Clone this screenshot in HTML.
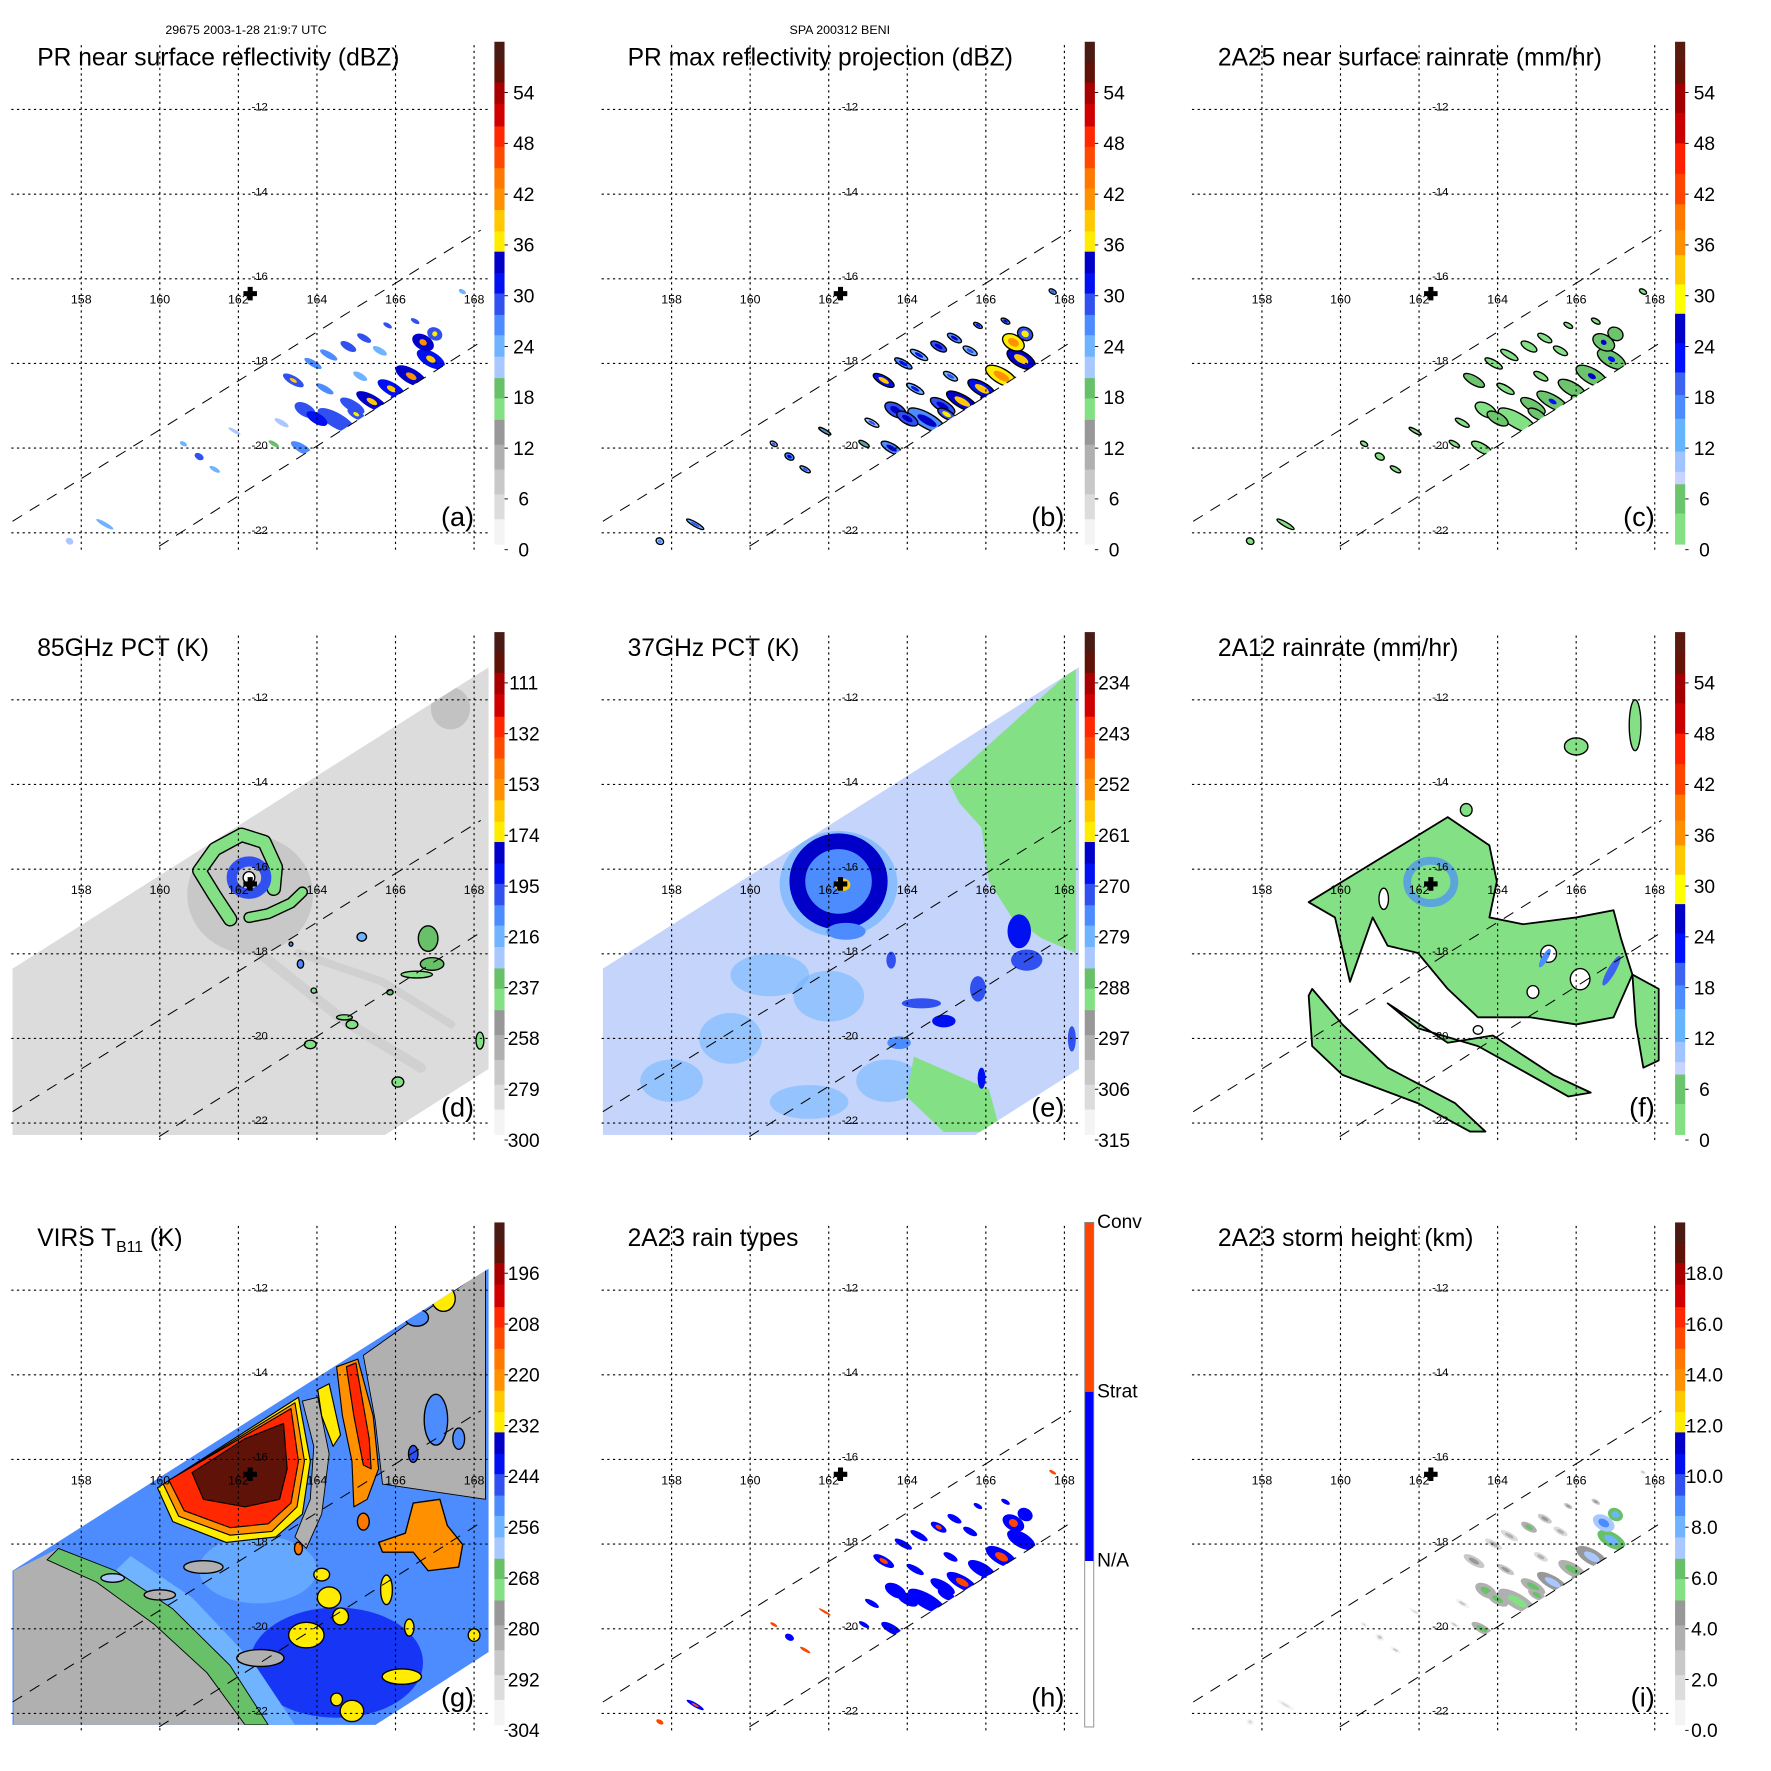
<!DOCTYPE html>
<html><head><meta charset="utf-8">
<style>
html,body{margin:0;padding:0;background:#fff;}
svg{display:block;}
text{font-family:"Liberation Sans",Arial,sans-serif;fill:#000;}
</style></head>
<body>
<svg id="chart" xmlns="http://www.w3.org/2000/svg" width="1771" height="1771" viewBox="0 0 1569 1569"></svg>
<script>
// ---------------- DATA ----------------
const prLon = [164.5,164.9,165.4,165.9,166.4,166.9,166.7,167.0,163.7,163.4,163.9,164.3,164.8,165.2,165.6,165.8,164.2,165.1,163.6,163.1,162.9,161.0,161.4,160.6,161.9,158.6,157.7,167.7,166.5,164.0,166.1,165.0];
const prLat = [-19.35,-19.0,-18.9,-18.6,-18.3,-17.9,-17.5,-17.3,-19.1,-18.4,-18.0,-17.8,-17.6,-17.4,-17.7,-17.1,-18.6,-18.3,-20.0,-19.4,-19.9,-20.2,-20.5,-19.9,-19.6,-21.8,-22.2,-16.3,-17.0,-19.3,-18.9,-19.2];
const prLen = [1.1,0.7,0.9,0.8,0.9,0.8,0.6,0.4,0.6,0.6,0.5,0.5,0.45,0.4,0.4,0.25,0.5,0.4,0.6,0.4,0.3,0.25,0.3,0.2,0.35,0.5,0.2,0.2,0.25,0.6,0.5,0.5];
const prWid = [0.35,0.25,0.3,0.3,0.35,0.35,0.35,0.3,0.3,0.2,0.15,0.15,0.18,0.15,0.15,0.1,0.15,0.15,0.2,0.12,0.1,0.15,0.1,0.1,0.08,0.1,0.15,0.1,0.1,0.25,0.2,0.2];
const prDbz = [28,30,33,31,33,32,34,30,29,30,27,26,29,28,25,28,26,25,27,22,20,28,25,24,22,24,22,24,30,31,32,30];
const prMax = [33,34,40,38,42,40,42,36,34,38,32,31,35,33,30,32,31,30,33,28,26,33,30,28,26,30,27,30,33,35,41,36];
const prRain = [4,5,8,6,9,7,9,5,4,5,3,2,4,3,2,3,2,2,3,1,1,2,1,1,1,1,1,2,3,5,7,5];
const prType = [0,0,1,0,1,0,1,0,0,1,0,0,1,0,0,0,0,0,0,0,0,0,1,1,1,1,1,1,0,0,1,0];
const prHgt = [5.5,6,7,6,7,8,9,8,6,5,4,4,6,5,4,5,5,4,6,3,3,3,3,2,2,2,2,3,5,6,7,6];

const dLon = [165.14,166.83,166.93,166.54,164.7,164.89,163.83,166.06,165.86,168.15,163.92,163.58,163.34];
const dLat = [-17.6,-17.64,-18.24,-18.49,-19.5,-19.67,-20.14,-21.03,-18.91,-20.05,-18.87,-18.24,-17.77];
const dRx = [0.12,0.25,0.3,0.4,0.2,0.15,0.15,0.15,0.08,0.1,0.07,0.08,0.05];
const dRy = [0.1,0.3,0.15,0.08,0.06,0.1,0.1,0.12,0.06,0.2,0.06,0.1,0.05];
const dVal = [215,230,235,238,240,238,240,242,235,240,240,205,210];
const dArmLon = [161.79,161.40,161.01,161.40,162.08,162.66,162.95,162.90];
const dArmLat = [-17.18,-16.63,-16.04,-15.53,-15.19,-15.36,-15.95,-16.46];
const dTailLon = [162.27,162.76,163.34,163.63];
const dTailLat = [-17.14,-17.05,-16.8,-16.54];
const dArc1Lon = [161.4,162.76,164.7,166.64];
const dArc1Lat = [-17.14,-18.15,-19.59,-20.69];
const dArc2Lon = [163.53,165.67,167.42];
const dArc2Lat = [-17.98,-18.66,-19.67];

const eGreenLon = [165.05,168.29,168.29,167.43,166.66,166.08,165.89,165.32];
const eGreenLat = [-13.92,-11.21,-17.98,-17.64,-17.14,-16.29,-15.02,-14.43];
const eGreen2Lon = [164.17,166.08,166.37,164.93,163.98];
const eGreen2Lat = [-20.43,-21.2,-22.21,-22.21,-21.37];
const ePatchLon = [166.85,167.04,164.36,164.93,165.8,163.59,163.79,165.89,162.44,168.19];
const ePatchLat = [-17.47,-18.15,-19.17,-19.59,-18.83,-18.15,-20.1,-20.94,-17.47,-20.01];
const ePatchRx = [0.3,0.4,0.5,0.3,0.2,0.12,0.3,0.1,0.5,0.1];
const ePatchRy = [0.4,0.25,0.12,0.15,0.3,0.2,0.15,0.25,0.2,0.3];
const ePatchVal = [268,270,272,268,272,270,275,268,276,270];
const eMidLon = [160.5,159.5,163.5,161.5,158.0,162.0];
const eMidLat = [-18.5,-20.0,-21.0,-21.5,-21.0,-19.0];
const eMidRx = [1.0,0.8,0.8,1.0,0.8,0.9];
const eMidRy = [0.5,0.6,0.5,0.4,0.5,0.6];

const fMainLon = [159.19,162.73,163.79,163.98,163.79,164.65,166.0,166.95,167.14,167.43,166.95,166.0,164.84,163.5,162.73,161.97,161.2,160.82,160.24,159.86];
const fMainLat = [-16.78,-14.77,-15.44,-16.29,-17.14,-17.3,-17.14,-16.97,-17.64,-18.49,-19.5,-19.67,-19.5,-19.5,-18.83,-17.98,-17.81,-17.14,-18.66,-17.14];
const fBandLon = [159.28,160.05,161.2,162.92,163.69,163.3,161.97,160.05,159.28,159.19];
const fBandLat = [-18.83,-19.67,-20.69,-21.53,-22.2,-22.2,-21.53,-20.86,-20.18,-18.99];
const fBand2Lon = [161.2,162.73,163.88,165.41,166.37,165.8,164.65,163.5,161.97];
const fBand2Lat = [-19.17,-20.1,-19.93,-20.86,-21.28,-21.37,-20.77,-20.18,-19.76];
const fStripLon = [167.43,168.1,168.1,167.71,167.52];
const fStripLat = [-18.49,-18.83,-20.52,-20.69,-19.67];
const fIsleLon = [167.5,166.0,163.2];
const fIsleLat = [-12.6,-13.1,-14.6];
const fIsleRx = [0.15,0.3,0.15];
const fIsleRy = [0.6,0.2,0.15];
const fHoleLon = [161.1,165.3,166.1,164.9,163.5];
const fHoleLat = [-16.7,-18.0,-18.6,-18.9,-19.8];
const fHoleRx = [0.12,0.2,0.25,0.15,0.12];
const fHoleRy = [0.25,0.2,0.25,0.15,0.1];

const gGraySWLon = [156.28,157.42,158.87,160.33,161.79,162.76,156.28];
const gGraySWLat = [-18.63,-18.1,-18.63,-19.53,-20.87,-22.27,-22.27];
const gGrayNELon = [165.18,168.29,168.29,165.67,165.48];
const gGrayNELat = [-13.54,-11.49,-16.94,-16.58,-15.06];
const gGreenLon = [157.13,157.42,158.87,160.33,161.79,162.76,162.17,161.2,159.84,158.39];
const gGreenLat = [-18.37,-18.1,-18.63,-19.53,-20.87,-22.27,-22.27,-21.04,-19.88,-18.9];
const gLbLon = [158.87,160.33,161.79,162.76,163.44,162.37,160.82,159.26];
const gLbLat = [-18.63,-19.53,-20.87,-22.27,-22.27,-20.78,-19.26,-18.28];
const gYelLon = [159.94,163.53,163.83,163.63,162.95,161.69,160.33];
const gYelLat = [-16.67,-14.53,-16.04,-17.29,-17.83,-17.96,-17.47];
const gOraLon = [160.09,163.44,163.68,163.49,162.85,161.79,160.48];
const gOraLat = [-16.58,-14.66,-16.04,-17.12,-17.7,-17.79,-17.34];
const gRedLon = [160.23,163.34,163.53,163.34,162.76,161.79,160.62];
const gRedLat = [-16.49,-14.8,-16.04,-17.03,-17.52,-17.61,-17.21];
const gCoreLon = [160.82,162.17,163.15,163.24,163.05,162.17,161.11];
const gCoreLat = [-16.31,-15.51,-15.15,-16.22,-16.94,-17.12,-16.94];
const gBand2Lon = [164.5,165.04,165.43,165.57,165.28,164.94,164.89,164.65];
const gBand2Lat = [-13.81,-13.63,-14.97,-16.22,-16.94,-17.12,-16.04,-14.97];
const gBand2CoreLon = [164.75,164.99,165.33,165.38,165.18,164.94];
const gBand2CoreLat = [-13.81,-13.72,-15.51,-16.22,-16.13,-14.97];
const gBand3Lon = [164.02,164.31,164.6,164.41,164.12];
const gBand3Lat = [-14.35,-14.21,-15.42,-15.69,-14.97];
const gGrayMidLon = [163.63,164.02,164.31,164.12,163.73,163.44,163.83,163.92];
const gGrayMidLat = [-14.62,-14.53,-15.87,-17.29,-18.1,-17.83,-16.94,-15.69];
const gOraBigLon = [166.45,167.13,167.32,167.71,167.61,166.83,166.45,165.67,165.57,166.25];
const gOraBigLat = [-17.03,-16.94,-17.56,-18.01,-18.54,-18.63,-18.19,-18.19,-17.96,-17.74];
const gBlobLon = [163.73,164.31,164.6,165.77,166.16,164.89,164.5,168.0,164.12,166.35,167.22,163.53,165.18,167.03,166.45,167.61,166.54,162.56,161.11,160.0,158.8];
const gBlobLat = [-20.15,-19.26,-19.71,-19.08,-21.13,-21.94,-21.67,-20.15,-18.72,-19.97,-12.2,-18.1,-17.47,-15.06,-15.87,-15.51,-12.65,-20.69,-18.54,-19.2,-18.8];
const gBlobRx = [0.45,0.3,0.2,0.15,0.5,0.3,0.15,0.15,0.2,0.12,0.3,0.1,0.15,0.3,0.12,0.15,0.3,0.6,0.5,0.4,0.3];
const gBlobRy = [0.3,0.25,0.2,0.35,0.18,0.25,0.15,0.15,0.15,0.2,0.3,0.15,0.2,0.6,0.2,0.25,0.2,0.2,0.15,0.12,0.1];
const gBlobVal = [230,230,230,230,230,230,230,230,230,230,230,218,218,250,245,250,250,282,280,282,262];

const mainBandTop = [37,55,73,92,112,130,149,167,186,205,223,242,260,279,297,316,335,353,372,394,416,438,460];
const mainBandColor = ['#4a1a14','#5e1208','#a80000','#d00000','#ff2800','#ff4800','#ff7800','#ff9000','#ffc800','#ffec00','#0000c8','#0010f0','#3050f0','#4c8cff','#70b4ff','#a8c8ff','#68c068','#84e084','#989898','#b0b0b0','#c8c8c8','#dcdcdc','#f4f4f4'];
const rainBandTop = [37,55,74,100,127,154,181,204,226,252,278,304,330,350,371,400,418,429,455];
const rainBandColor = ['#5a1a10','#661408','#a00000','#c80000','#ff2000','#ff4400','#ff7800','#ff9000','#ffc800','#ffff00','#0000c8','#0010ff','#3c64f0','#4c8cff','#64b4ff','#a0c4ff','#c8d4ff','#6cc46c','#84e084'];
const ticksDbz = ['54','48','42','36','30','24','18','12','6','0'];
const ticks85 = ['111','132','153','174','195','216','237','258','279','300'];
const ticks37 = ['234','243','252','261','270','279','288','297','306','315'];
const ticksVirs = ['196','208','220','232','244','256','268','280','292','304'];
const ticksHgt = ['18.0','16.0','14.0','12.0','10.0','8.0','6.0','4.0','2.0','0.0'];
const lonTicks = [158,160,162,164,166,168];
const latTicks = [-12,-14,-16,-18,-20,-22];

// ---------------- RENDER ----------------
const NS = 'http://www.w3.org/2000/svg';
const svg = document.getElementById('chart');
function mk(tag, parent, attrs) {
  const e = document.createElementNS(NS, tag);
  for (const k in attrs) e.setAttribute(k, attrs[k]);
  parent.appendChild(e);
  return e;
}
const defs = mk('defs', svg, {});
function bandColor(tops, cols, y) {
  y = Math.max(37, Math.min(481, y));
  for (let i = tops.length - 1; i >= 0; i--) if (y >= tops[i]) return cols[i];
  return cols[0];
}
const scaleY = {
  dbz: v => 486 - v * 7.48,
  d: v => 486 - (300 - v) * 2.138,
  e: v => 486 - (315 - v) * 4.99,
  g: v => 486 - (304 - v) * 3.74,
  hgt: v => 486 - v * 22.44
};
function cMain(scale, v) { return bandColor(mainBandTop, mainBandColor, scaleY[scale](v)); }
function cRain(v) { return bandColor(rainBandTop, rainBandColor, scaleY.dbz(v)); }

const panels = [
  {k:'a', c:0, r:0, title:'PR near surface reflectivity (dBZ)', ticks:ticksDbz, cm:'main'},
  {k:'b', c:1, r:0, title:'PR max reflectivity projection (dBZ)', ticks:ticksDbz, cm:'main'},
  {k:'c', c:2, r:0, title:'2A25 near surface rainrate (mm/hr)', ticks:ticksDbz, cm:'rain'},
  {k:'d', c:0, r:1, title:'85GHz PCT (K)', ticks:ticks85, cm:'main'},
  {k:'e', c:1, r:1, title:'37GHz PCT (K)', ticks:ticks37, cm:'main'},
  {k:'f', c:2, r:1, title:'2A12 rainrate (mm/hr)', ticks:ticksDbz, cm:'rain'},
  {k:'g', c:0, r:2, title:'VIRS', ticks:ticksVirs, cm:'main'},
  {k:'h', c:1, r:2, title:'2A23 rain types', ticks:null, cm:'type'},
  {k:'i', c:2, r:2, title:'2A23 storm height (km)', ticks:ticksHgt, cm:'main'}
];

const hdr1 = mk('text', svg, {x:218, y:30, 'font-size':11, 'text-anchor':'middle'});


hdr1.textContent = '29675 2003-1-28 21:9:7 UTC';
const hdr2 = mk('text', svg, {x:744, y:30, 'font-size':11, 'text-anchor':'middle'});


hdr2.textContent = 'SPA 200312 BENI';

panels.forEach(p => {
  const ox = p.c * 523, oy = p.r * 523;
  const X = lon => ox + 72 + (lon - 158) * 34.8;
  const Y = lat => oy + 97 + (-12 - lat) * 37.5;
  const pts = (lons, lats) => lons.map((l, i) => X(l).toFixed(1) + ',' + Y(lats[i]).toFixed(1)).join(' ');
  const G = mk('g', svg, {});
  
  

  const cr = mk('clipPath', defs, {id:'cr-' + p.k});
  mk('rect', cr, {x:ox + 10, y:oy + 38, width:423, height:445});
  const cs = mk('clipPath', defs, {id:'cs-' + p.k});
  mk('polygon', cs, {points: pts([155,170,170,155], [-22.45,-13.79,-16.42,-25.25])});

  const data = mk('g', G, {'clip-path':'url(#cr-' + p.k + ')'});
  
  
  const sw = mk('g', data, {'clip-path':'url(#cs-' + p.k + ')'});
  
  

  function ell(parent, lon, lat, rx, ry, fill, name, stroke, rot) {
    const e = mk('ellipse', parent, {cx:X(lon).toFixed(1), cy:Y(lat).toFixed(1), rx:(rx * 34.8).toFixed(1), ry:(ry * 37.5).toFixed(1), fill:fill});
    if (stroke) { e.setAttribute('stroke', stroke); e.setAttribute('stroke-width', 1.2); }
    if (rot) e.setAttribute('transform', 'rotate(' + rot + ' ' + X(lon).toFixed(1) + ' ' + Y(lat).toFixed(1) + ')');
    
    
    return e;
  }
  function poly(parent, lons, lats, fill, name, stroke, sw2) {
    const e = mk('polygon', parent, {points:pts(lons, lats), fill:fill});
    if (stroke) { e.setAttribute('stroke', stroke); e.setAttribute('stroke-width', sw2 || 1.2); e.setAttribute('stroke-linejoin', 'round'); }
    
    
    return e;
  }
  function line(parent, lons, lats, color, w, name, op) {
    const e = mk('polyline', parent, {points:pts(lons, lats), fill:'none', stroke:color, 'stroke-width':w, 'stroke-linecap':'round', 'stroke-linejoin':'round'});
    if (op) e.setAttribute('opacity', op);
    
    
    return e;
  }

  if (p.k === 'a') {
    prLon.forEach((lon, i) => {
      ell(sw, lon, prLat[i], prLen[i] / 2, prWid[i] / 2, cMain('dbz', prDbz[i]), 'rain-cell', null, 30);
      if (prMax[i] >= 36) ell(sw, lon, prLat[i], prLen[i] / 6, prWid[i] / 5, cMain('dbz', prMax[i]), 'rain-cell-core', null, 30);
    });
  } else if (p.k === 'b') {
    prLon.forEach((lon, i) => {
      ell(sw, lon, prLat[i], prLen[i] / 2, prWid[i] / 2, cMain('dbz', prMax[i] - 6), 'max-refl-cell', '#000', 30);
      ell(sw, lon, prLat[i], prLen[i] / 4, prWid[i] / 4, cMain('dbz', prMax[i]), 'max-refl-core', null, 30);
    });
  } else if (p.k === 'c') {
    prLon.forEach((lon, i) => {
      ell(sw, lon, prLat[i], prLen[i] / 2, prWid[i] / 2, cRain(Math.min(prRain[i], 6)), 'rainrate-cell', '#000', 30);
      if (prRain[i] >= 7) ell(sw, lon, prLat[i], prLen[i] / 8, prWid[i] / 6, cRain(prRain[i] * 3), 'rainrate-core', null, 30);
    });
  } else if (p.k === 'h') {
    prLon.forEach((lon, i) => {
      if (prType[i] === 0) ell(sw, lon, prLat[i], prLen[i] / 2, prWid[i] / 2, '#0000ff', 'stratiform-cell', null, 30);
      else if (prLen[i] > 0.4) {
        ell(sw, lon, prLat[i], prLen[i] / 2, prWid[i] / 2, '#0000ff', 'stratiform-cell', null, 30);
        ell(sw, lon, prLat[i], prLen[i] / 5, prWid[i] / 4, '#ff4500', 'convective-cell', null, 30);
      } else ell(sw, lon, prLat[i], prLen[i] / 2, prWid[i] / 3, '#ff4500', 'convective-cell', null, 30);
    });
  } else if (p.k === 'i') {
    prLon.forEach((lon, i) => {
      ell(sw, lon, prLat[i], prLen[i] / 2, prWid[i] / 2, cMain('hgt', prHgt[i] - 2), 'storm-height-cell', null, 30);
      ell(sw, lon, prLat[i], prLen[i] / 4, prWid[i] / 4, cMain('hgt', prHgt[i]), 'storm-height-core', null, 30);
    });
  } else if (p.k === 'd') {
    poly(data, [156.25,168.37,168.37,165.73,156.25], [-18.35,-11.23,-20.72,-22.28,-22.28], cMain('d', 285), 'tmi-swath-85ghz');
    const cl = mk('clipPath', defs, {id:'ct-' + p.k});
    mk('polygon', cl, {points:pts([156.25,168.37,168.37,165.73,156.25], [-18.35,-11.23,-20.72,-22.28,-22.28])});
    const tg = mk('g', data, {'clip-path':'url(#ct-' + p.k + ')'});
    
    
    ell(tg, 162.3, -16.6, 1.6, 1.4, cMain('d', 262), 'eyewall-halo').setAttribute('opacity', 0.45);
    ell(tg, 167.4, -12.2, 0.5, 0.5, cMain('d', 265), 'cold-patch').setAttribute('opacity', 0.6);
    line(tg, dArc1Lon, dArc1Lat, cMain('d', 268), 9, 'rainband-arc', 0.6);
    line(tg, dArc2Lon, dArc2Lat, cMain('d', 268), 7, 'rainband-arc', 0.6);
    line(tg, dArmLon, dArmLat, '#000', 13, 'spiral-arm-outline');
    line(tg, dArmLon, dArmLat, cMain('d', 238), 10.5, 'spiral-arm');
    line(tg, dTailLon, dTailLat, '#000', 10, 'spiral-tail-outline');
    line(tg, dTailLon, dTailLat, cMain('d', 238), 7.5, 'spiral-tail');
    const ring = ell(tg, 162.27, -16.2, 0.44, 0.38, 'none', 'eyewall-ring');
    ring.setAttribute('stroke', cMain('d', 200)); ring.setAttribute('stroke-width', 9);
    ell(tg, 162.27, -16.2, 0.15, 0.14, '#ffffff', 'eye', '#000');
    dLon.forEach((lon, i) => ell(tg, lon, dLat[i], dRx[i], dRy[i], cMain('d', dVal[i]), 'cold-pct-blob', '#000'));
  } else if (p.k === 'e') {
    poly(data, [156.25,168.37,168.37,165.73,156.25], [-18.35,-11.23,-20.72,-22.28,-22.28], '#c4d4fa', 'tmi-swath-37ghz');
    const cl = mk('clipPath', defs, {id:'ct-' + p.k});
    mk('polygon', cl, {points:pts([156.25,168.37,168.37,165.73,156.25], [-18.35,-11.23,-20.72,-22.28,-22.28])});
    const tg = mk('g', data, {'clip-path':'url(#ct-' + p.k + ')'});
    
    
    eMidLon.forEach((lon, i) => ell(tg, lon, eMidLat[i], eMidRx[i], eMidRy[i], cMain('e', 280), 'warm-patch').setAttribute('opacity', 0.55));
    poly(tg, eGreenLon, eGreenLat, cMain('e', 290), 'ocean-background-region');
    poly(tg, eGreen2Lon, eGreen2Lat, cMain('e', 290), 'ocean-background-region');
    ell(tg, 162.25, -16.35, 1.5, 1.25, cMain('e', 278), 'storm-core-halo').setAttribute('opacity', 0.7);
    const ring = ell(tg, 162.25, -16.29, 1.05, 0.95, cMain('e', 275), 'eyewall-ring');
    ring.setAttribute('stroke', cMain('e', 265)); ring.setAttribute('stroke-width', 14);
    ell(tg, 162.35, -16.37, 0.2, 0.15, cMain('e', 258), 'eye-warm-core');
    ePatchLon.forEach((lon, i) => ell(tg, lon, ePatchLat[i], ePatchRx[i], ePatchRy[i], cMain('e', ePatchVal[i]), 'scattering-patch'));
  } else if (p.k === 'f') {
    poly(data, fMainLon, fMainLat, cRain(3), 'rain-region-main', '#000', 1.6);
    poly(data, fBandLon, fBandLat, cRain(3), 'rain-band-southwest', '#000', 1.6);
    poly(data, fBand2Lon, fBand2Lat, cRain(3), 'rain-band-south', '#000', 1.6);
    poly(data, fStripLon, fStripLat, cRain(3), 'rain-band-east', '#000', 1.6);
    fIsleLon.forEach((lon, i) => ell(data, lon, fIsleLat[i], fIsleRx[i], fIsleRy[i], cRain(3), 'rain-patch', '#000'));
    fHoleLon.forEach((lon, i) => ell(data, lon, fHoleLat[i], fHoleRx[i], fHoleRy[i], '#ffffff', 'no-rain-hole', '#000'));
    const sp = ell(data, 162.3, -16.3, 0.6, 0.5, 'none', 'eyewall-rain-ring');
    sp.setAttribute('stroke', cRain(16)); sp.setAttribute('stroke-width', 7); sp.setAttribute('opacity', 0.7);
    ell(data, 166.9, -18.4, 0.1, 0.4, cRain(20), 'heavy-rain-streak', null, 30);
    ell(data, 165.2, -18.1, 0.08, 0.25, cRain(16), 'heavy-rain-streak', null, 30);
  } else if (p.k === 'g') {
    const gsLon = [156.25,168.37,168.37,165.49,156.25], gsLat = [-18.63,-11.49,-20.55,-22.27,-22.27];
    poly(data, gsLon, gsLat, cMain('g', 249), 'virs-swath');
    const cl = mk('clipPath', defs, {id:'ct-' + p.k});
    mk('polygon', cl, {points:pts(gsLon, gsLat)});
    const tg = mk('g', data, {'clip-path':'url(#ct-' + p.k + ')'});
    
    
    ell(tg, 164.5, -20.8, 2.2, 1.3, cMain('g', 242), 'cold-cloud-area').setAttribute('opacity', 0.7);
    ell(tg, 162.5, -18.6, 1.5, 0.8, cMain('g', 254), 'cloud-area').setAttribute('opacity', 0.7);
    poly(tg, gGraySWLon, gGraySWLat, cMain('g', 284), 'clear-region-southwest');
    poly(tg, gGrayNELon, gGrayNELat, cMain('g', 285), 'clear-region-northeast', '#000', 0.8);
    poly(tg, gLbLon, gLbLat, cMain('g', 258), 'cloud-edge-band');
    poly(tg, gGreenLon, gGreenLat, cMain('g', 266), 'cloud-edge-band', '#000', 0.8);
    poly(tg, gGrayMidLon, gGrayMidLat, cMain('g', 282), 'moat-region', '#000', 0.8);
    poly(tg, gYelLon, gYelLat, cMain('g', 230), 'cdo-yellow', '#000', 1);
    poly(tg, gOraLon, gOraLat, cMain('g', 220), 'cdo-orange', '#000', 1);
    poly(tg, gRedLon, gRedLat, cMain('g', 206), 'cdo-red', '#000', 1);
    poly(tg, gCoreLon, gCoreLat, cMain('g', 192), 'cdo-core', '#000', 1);
    poly(tg, gBand2Lon, gBand2Lat, cMain('g', 220), 'outer-band-orange', '#000', 1);
    poly(tg, gBand2CoreLon, gBand2CoreLat, cMain('g', 204), 'outer-band-core', '#000', 1);
    poly(tg, gBand3Lon, gBand3Lat, cMain('g', 230), 'outer-band-yellow', '#000', 1);
    poly(tg, gOraBigLon, gOraBigLat, cMain('g', 222), 'convective-cluster', '#000', 1.2);
    gBlobLon.forEach((lon, i) => ell(tg, lon, gBlobLat[i], gBlobRx[i], gBlobRy[i], cMain('g', gBlobVal[i]), 'cloud-top-blob', '#000'));
  }

  const grid = mk('g', G, {stroke:'#000', 'stroke-width':1, 'stroke-dasharray':'2,3'});
  
  
  lonTicks.forEach(lon => {
    const l = mk('line', grid, {x1:X(lon), x2:X(lon), y1:oy + 40, y2:oy + 487});
    
    
  });
  latTicks.forEach(lat => {
    const l = mk('line', grid, {x1:ox + 10, x2:ox + 433, y1:Y(lat), y2:Y(lat)});
    
    
  });
  lonTicks.forEach(lon => {
    const t = mk('text', G, {x:X(lon), y:oy + 269, 'font-size':11, 'text-anchor':'middle'});
    
    
    t.textContent = lon;
  });
  latTicks.forEach(lat => {
    const t = mk('text', G, {x:ox + 230, y:Y(lat) + 1, 'font-size':10, 'text-anchor':'middle'});
    
    
    t.textContent = lat;
  });

  const edges = mk('g', G, {stroke:'#000', 'stroke-width':0.9, 'stroke-dasharray':'10,8', fill:'none'});
  
  
  const e1 = mk('line', edges, {x1:X(156.25), y1:Y(-21.73), x2:X(168.17), y2:Y(-14.85)});
  
  
  const e2 = mk('line', edges, {x1:X(159.98), y1:Y(-22.32), x2:X(168.26), y2:Y(-17.44)});
  
  

  const cx = X(162.3), cy = Y(-16.35);
  const plus = mk('path', G, {d:`M${cx - 6} ${cy}H${cx + 6}M${cx} ${cy - 6}V${cy + 6}`, stroke:'#000', 'stroke-width':4.5, fill:'none'});
  
  

  const cb = mk('g', G, {});
  
  
  if (p.cm === 'type') {
    const segs = [[1083,1233,'#ff4500','conv'],[1233,1383,'#0000ff','strat'],[1383,1530,'#ffffff','na']];
    segs.forEach(s => {
      const r = mk('rect', cb, {x:ox + 438, y:s[0] - 1046 + oy, width:8, height:s[1] - s[0], fill:s[2]});
      
      
    });
    const ob = mk('rect', cb, {x:ox + 438, y:oy + 37, width:8, height:447, fill:'none', stroke:'#888', 'stroke-width':0.8});
    
    
    [['Conv',37],['Strat',187],['N/A',337]].forEach(l => {
      const t = mk('text', cb, {x:ox + 449, y:oy + l[1] + 5, 'font-size':17});
      
      
      t.textContent = l[0];
    });
  } else {
    const tops = p.cm === 'rain' ? rainBandTop : mainBandTop;
    const cols = p.cm === 'rain' ? rainBandColor : mainBandColor;
    tops.forEach((t, i) => {
      const b = i < tops.length - 1 ? tops[i + 1] : 482;
      const r = mk('rect', cb, {x:ox + 438, y:oy + t, width:9, height:b - t + 0.5, fill:cols[i]});
      
      
    });
    p.ticks.forEach((lab, i) => {
      const ty = oy + 82 + i * 45;
      const tk = mk('line', cb, {x1:ox + 447, x2:ox + 450, y1:ty, y2:ty, stroke:'#000', 'stroke-width':0.8});
      
      
      const t = mk('text', cb, {x:ox + 464, y:ty + 6, 'font-size':17, 'text-anchor':'middle'});
      
      
      t.textContent = lab;
    });
  }

  const tt = mk('text', G, {x:ox + 33, y:oy + 58, 'font-size':21.8});
  
  
  if (p.k === 'g') {
    tt.textContent = 'VIRS T';
    const sub = mk('tspan', tt, {'font-size':14, dy:5});
    
    
    sub.textContent = 'B11';
    const rest = mk('tspan', tt, {dy:-5});
    
    
    rest.textContent = ' (K)';
  } else tt.textContent = p.title;
  const lt = mk('text', G, {x:ox + 420, y:oy + 466, 'font-size':24, 'text-anchor':'end'});
  
  
  lt.textContent = '(' + p.k + ')';
});
</script>
</body></html>
